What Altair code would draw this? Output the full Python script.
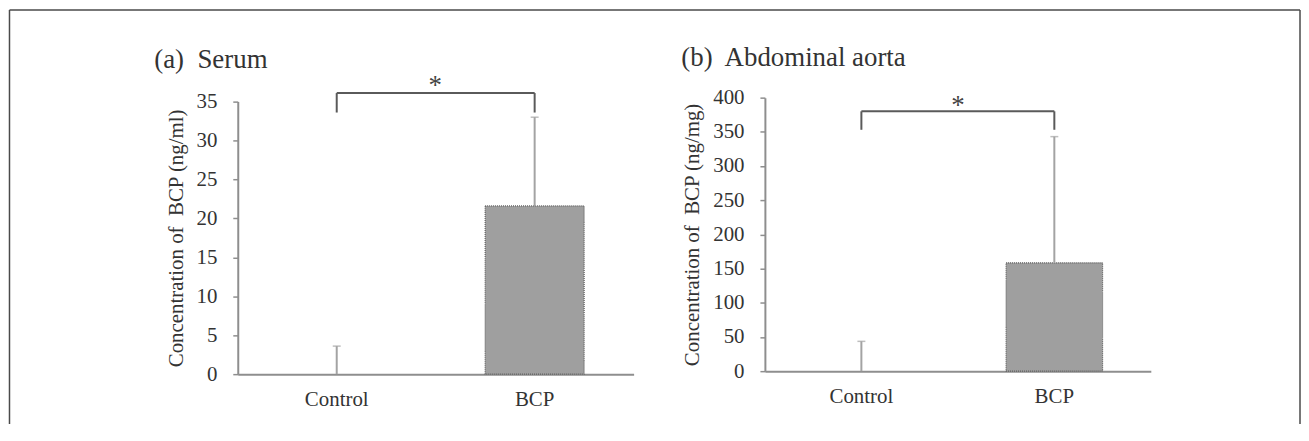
import altair as alt
import pandas as pd

categories = ["Control", "BCP"]
serum_mean = [0.0, 21.6]
serum_sd = [3.6, 11.4]
aorta_mean = [0.0, 158.5]
aorta_sd = [43.6, 184.5]
serum_bracket = [33.6, 36.1, 37.7]   # leg bottom, bracket top, asterisk
aorta_bracket = [353.0, 380.0, 394.6]

FONT = "Liberation Serif"
TXT = "#333333"
AX = "#8e8e8e"
NB = "\u00a0"
ONE = pd.DataFrame({"k": [0]})


def panel(title, title_y, ytitle, means, sds, br, ymax, ystep, width, height,
          yrange, ast_dx, border=False):
    df = pd.DataFrame({"cat": categories, "mean": means,
                       "upper": [m + s for m, s in zip(means, sds)]})
    bdf = pd.DataFrame({"cat": categories, "lo": [br[0]] * 2, "hi": [br[1]] * 2})
    hdf = pd.DataFrame({"a": [categories[0]], "b": [categories[1]], "y": [br[1]]})
    sdf = pd.DataFrame({"cat": [categories[0]], "y": [br[2]], "t": ["*"]})

    xs = alt.Scale(domain=categories, paddingInner=0.5, paddingOuter=0.25)
    xaxis = alt.Axis(labelAngle=0, labelFont=FONT, labelFontSize=21,
                     labelColor=TXT, domainColor=AX, domainWidth=2,
                     ticks=False, tickSize=0, labelPadding=15)
    ys = alt.Scale(domain=[0, ymax], nice=False, range=yrange)
    yaxis = alt.Axis(values=list(range(0, ymax + 1, ystep)), grid=False,
                     labelOverlap=False, labelFlush=False,
                     labelFont=FONT, labelFontSize=21, labelColor=TXT,
                     titleFont=FONT, titleFontSize=21, titleColor=TXT,
                     titleFontWeight="normal", domainColor=AX, domainWidth=2,
                     tickColor=AX, tickWidth=1.5, tickSize=5, labelPadding=16,
                     titlePadding=10)

    def X(f):
        return alt.X(f, type="nominal", scale=xs, title=None, axis=xaxis)

    def Y(f):
        return alt.Y(f, type="quantitative", scale=ys, title=ytitle, axis=yaxis)

    bars = alt.Chart(df).mark_bar(color="#9f9f9f", stroke="#5e5e5e",
                                  strokeWidth=1.2, strokeDash=[1, 1]).encode(
        x=X("cat"), y=Y("mean"),
        strokeOpacity=alt.condition("datum.mean > 0", alt.value(1), alt.value(0)))
    err = alt.Chart(df).mark_rule(color="#a3a3a3", strokeWidth=2).encode(
        x=X("cat"), y=Y("mean"), y2="upper:Q")
    cap = alt.Chart(df).mark_tick(color="#a3a3a3", thickness=1.5, size=8,
                                  orient="horizontal").encode(x=X("cat"), y=Y("upper"))
    legs = alt.Chart(bdf).mark_rule(color="#5a5a5a", strokeWidth=2, clip=False).encode(
        x=X("cat"), y=Y("lo"), y2="hi:Q")
    top = alt.Chart(hdf).mark_rule(color="#5a5a5a", strokeWidth=2, clip=False).encode(
        x=X("a"), x2="b:N", y=Y("y"))
    star = alt.Chart(sdf).mark_text(font=FONT, fontSize=27, color="#444444",
                                    baseline="middle", dx=ast_dx, dy=5,
                                    clip=False).encode(x=X("cat"), y=Y("y"), text="t:N")
    ttl = alt.Chart(ONE).mark_text(text=title, font=FONT, fontSize=27, color=TXT,
                                   align="left", baseline="alphabetic").encode(
        x=alt.value(-84), y=alt.value(title_y))
    layers = [bars, err, cap, legs, top, star, ttl]
    if border:
        bc = "#4a4a4a"
        layers += [
            alt.Chart(ONE).mark_rule(color=bc, strokeWidth=1.5).encode(
                x=alt.value(-229.5), y=alt.value(-88), y2=alt.value(328)),
            alt.Chart(ONE).mark_rule(color=bc, strokeWidth=1.5).encode(
                x=alt.value(1068), y=alt.value(-88), y2=alt.value(328)),
            alt.Chart(ONE).mark_rule(color=bc, strokeWidth=1.5).encode(
                x=alt.value(-229.5), x2=alt.value(1068), y=alt.value(-88)),
        ]
    return alt.layer(*layers).properties(width=width, height=height)


a = panel("(a)" + NB + " Serum", -30, "Concentration of" + NB + " BCP (ng/ml)",
          serum_mean, serum_sd, serum_bracket, 35, 5, 398, 278, [278, 4], 99,
          border=True)
b = panel("(b)" + NB + " Abdominal aorta", -32, "Concentration of" + NB + " BCP (ng/mg)",
          aorta_mean, aorta_sd, aorta_bracket, 400, 50, 388, 275, [275, 0], 97)

chart = alt.hconcat(a, b, spacing=132, bounds="flush").configure_view(
    stroke=None).properties(padding=0)

chart.save("out.html", embed_options={"renderer": "svg", "actions": False})
